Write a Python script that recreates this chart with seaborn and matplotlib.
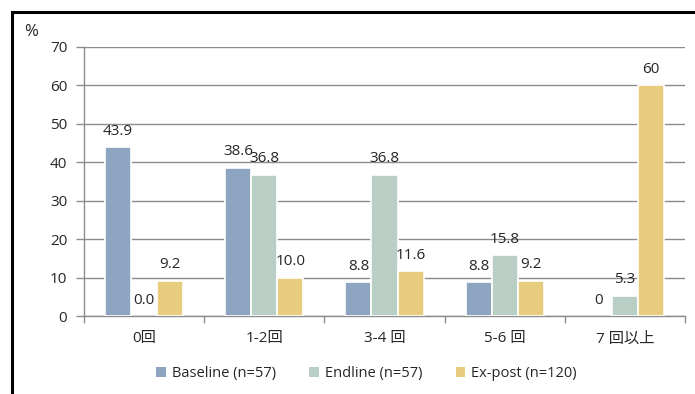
import matplotlib
matplotlib.use("Agg")
import matplotlib.pyplot as plt
from matplotlib.patches import Rectangle
import numpy as np
import pandas as pd
import seaborn as sns

categories = ["0回", "1-2回", "3-4 回", "5-6 回", "7 回以上"]
series_names = ["Baseline (n=57)", "Endline (n=57)", "Ex-post (n=120)"]
baseline = [43.9, 38.6, 8.8, 8.8, 0]
endline = [0.0, 36.8, 36.8, 15.8, 5.3]
expost = [9.2, 10.0, 11.6, 9.2, 60]
# decimals shown in each value label
baseline_dec = [1, 1, 1, 1, 0]
endline_dec = [1, 1, 1, 1, 1]
expost_dec = [1, 1, 1, 1, 0]
colors = ["#8EA5C2", "#B9CEC5", "#E8CD80"]
yticks = [0, 10, 20, 30, 40, 50, 60, 70]

values = [baseline, endline, expost]
decimals = [baseline_dec, endline_dec, expost_dec]

df = pd.DataFrame({
    "category": categories * 3,
    "series": np.repeat(series_names, len(categories)),
    "value": baseline + endline + expost,
})

sns.set_theme(style="white")
FONT = ["Open Sans", "Noto Sans CJK JP", "DejaVu Sans"]
plt.rcParams["font.family"] = FONT
TXT = "#262626"
GRID = "#8C8C8C"
FS = 11

fig = plt.figure(figsize=(6.95, 3.94), dpi=100)
ax = fig.add_axes([84 / 695, 1 - 316 / 394, 601 / 695, 269 / 394])

sns.barplot(data=df, x="category", y="value", hue="series",
            order=categories, hue_order=series_names, palette=colors,
            width=0.65, edgecolor="white", linewidth=1.2, saturation=1,
            ax=ax, legend=True, zorder=3)

for cont, vals, decs in zip(ax.containers, values, decimals):
    labels = [f"{v:.{d}f}" for v, d in zip(vals, decs)]
    ax.bar_label(cont, labels=labels, padding=6, fontsize=FS, color=TXT,
                 zorder=5)
    for patch in cont:
        if patch.get_height() == 0:
            patch.set_linewidth(0)

ax.set_ylim(0, 70)
ax.set_xlim(-0.5, len(categories) - 0.5)
ax.set_yticks(yticks)
ax.yaxis.grid(True, color=GRID, linewidth=1)
ax.set_axisbelow(True)
for g in ax.yaxis.get_gridlines():
    g.set_zorder(0)

ax.set_xticks(np.arange(-0.5, len(categories)), labels=[""] * (len(categories) + 1))
ax.set_xticks(np.arange(len(categories)), labels=categories, minor=True)
ax.tick_params(axis="x", which="major", length=5, width=1, color=GRID, direction="out", bottom=True)
ax.tick_params(axis="x", which="minor", length=0, labelsize=FS, labelcolor=TXT, pad=11)
ax.tick_params(axis="y", length=6, width=1, color=GRID, direction="out", left=True,
               labelsize=FS, labelcolor=TXT, pad=6)

for s in ["top", "right"]:
    ax.spines[s].set_visible(False)
for s in ["left", "bottom"]:
    ax.spines[s].set_color(GRID)
    ax.spines[s].set_linewidth(1)

ax.set_xlabel("")
ax.set_ylabel("")
fig.text(31 / 695, 1 - 32 / 394, "%", fontsize=12, color=TXT, ha="center", va="center")

handles, labs = ax.get_legend_handles_labels()
ax.legend(handles, labs, loc="center", bbox_to_anchor=(0.47, -0.215), ncol=3,
          frameon=False, fontsize=10.5, handlelength=0.65, handleheight=0.65,
          handletextpad=0.4, columnspacing=2.3, labelcolor=TXT)
for h in ax.get_legend().legend_handles:
    h.set_edgecolor("none")

fig.add_artist(Rectangle((12 / 695, -0.2), 2.0, 1.2 - 12 / 394,
                         transform=fig.transFigure, fill=False,
                         edgecolor="black", linewidth=2.2))

fig.savefig("out.png", dpi=100, facecolor="white")
